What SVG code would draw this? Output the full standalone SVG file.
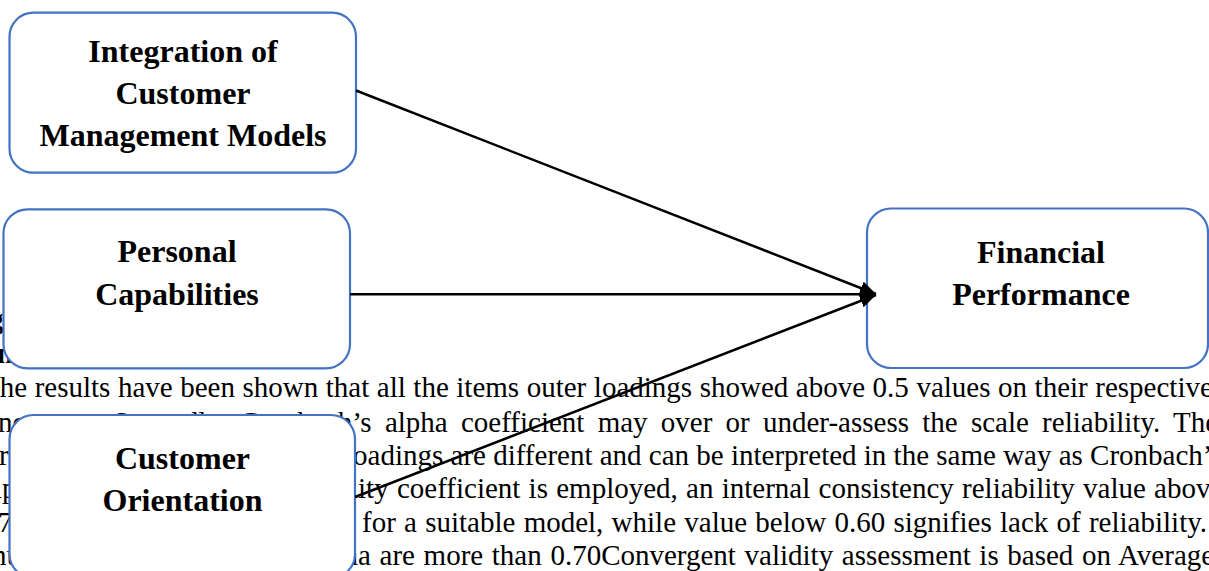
<svg xmlns="http://www.w3.org/2000/svg" width="1209" height="571" viewBox="0 0 1209 571">
<style>
.body{font-family:"Liberation Serif","Times New Roman",serif;font-size:29px;fill:#000}
.head{font-family:"Liberation Serif","Times New Roman",serif;font-size:29px;font-weight:bold;fill:#000}
.box{fill:#fff;stroke:#4472C4;stroke-width:2.2}
.lbl{font-family:"Liberation Serif","Times New Roman",serif;font-size:32px;font-weight:bold;fill:#000;text-anchor:middle}
.edge{stroke:#000;stroke-width:2.5;fill:none;marker-end:url(#ah)}
</style>
<defs>
<marker id="ah" markerUnits="userSpaceOnUse" markerWidth="18" markerHeight="16" refX="16" refY="7" orient="auto">
<path d="M0,0 L16,7 L0,14 Z" fill="#000"/>
</marker>
</defs>
<rect width="1209" height="571" fill="#fff"/>
<g id="background-text">
<text class="head" x="-11" y="329">g</text>
<text class="head" x="-3" y="363">n</text>
<text class="head" x="56" y="363">g</text>
<text class="body" x="-18" y="397" style="word-spacing:0.3px">The results have been shown that all the items outer loadings showed above 0.5 values on their respective</text>
<text class="body" x="-2" y="432">ne</text>
<text class="body" x="113" y="432" style="word-spacing:6px">Secondly, Cronbach’s alpha coefficient may over or under-assess the scale reliability. The</text>
<text class="body" x="-1" y="465">r</text>
<text class="body" x="345" y="465">loadings are different and can be interpreted in the same way as Cronbach’s</text>
<text class="body" x="-6" y="498">lp</text>
<text class="body" x="350" y="498" style="word-spacing:1px">lity coefficient is employed, an internal consistency reliability value above</text>
<text class="body" x="-2" y="532">7</text>
<text class="body" x="362" y="532" style="word-spacing:1px">for a suitable model, while value below 0.60 signifies lack of reliability.</text>
<text class="body" x="-8" y="565">nu</text>
<text class="body" x="343.5" y="565" style="word-spacing:1.4px">ha are more than 0.70Convergent validity assessment is based on Average</text>
</g>
<g id="node-integration">
<rect class="box" x="9.5" y="12.7" width="346.5" height="160" rx="24"/>
<text class="lbl" x="183" y="62">Integration of</text>
<text class="lbl" x="183" y="104">Customer</text>
<text class="lbl" x="183" y="146">Management Models</text>
</g>
<g id="node-personal">
<rect class="box" x="3.5" y="209.3" width="346.5" height="159" rx="24"/>
<text class="lbl" x="177" y="262">Personal</text>
<text class="lbl" x="177" y="305">Capabilities</text>
</g>
<g id="node-customer">
<rect class="box" x="9.5" y="415" width="345.5" height="163" rx="24"/>
<text class="lbl" x="182.5" y="469">Customer</text>
<text class="lbl" x="182.5" y="511">Orientation</text>
</g>
<g id="node-financial">
<rect class="box" x="867" y="208.5" width="341" height="159.5" rx="24"/>
<text class="lbl" x="1041" y="263">Financial</text>
<text class="lbl" x="1041" y="305">Performance</text>
</g>
<g id="connectors">
<line class="edge" x1="356" y1="90.5" x2="876" y2="294"/>
<line class="edge" x1="350" y1="294.3" x2="876" y2="294.3"/>
<line class="edge" x1="355" y1="497" x2="876" y2="295"/>
</g>
</svg>
